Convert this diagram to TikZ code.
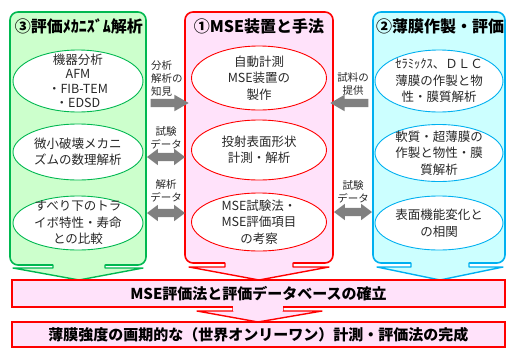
\documentclass[tikz,border=0pt]{standalone}
\usepackage{fontspec}
\setmainfont{Noto Sans CJK JP}
\usetikzlibrary{shapes.geometric,shapes.arrows}
\definecolor{gline}{RGB}{0,184,80}
\definecolor{gfill}{RGB}{204,255,204}
\definecolor{rline}{RGB}{255,0,0}
\definecolor{rfill}{RGB}{255,226,250}
\definecolor{bline}{RGB}{0,176,240}
\definecolor{bfill}{RGB}{204,255,255}
\definecolor{agray}{RGB}{128,128,128}
\definecolor{txt}{RGB}{40,40,40}
\tikzset{
  panel/.style={line width=1.6pt, rounded corners=8pt},
  ttl/.style={font=\fontsize{16}{18}\selectfont\bfseries, inner sep=0pt},
  etxt/.style={align=center, font=\fontsize{12.5}{16.5}\selectfont, text=txt, inner sep=0pt},
  etxtb/.style={align=center, font=\fontsize{12.5}{14.5}\selectfont, text=txt, inner sep=0pt},
  lbl/.style={font=\fontsize{10.5}{13}\selectfont, text=txt, inner sep=0pt},
  ell/.style={ellipse, fill=white, line width=0.9pt, inner sep=0pt},
  rarr/.style={single arrow, fill=agray, draw=none, minimum height=38pt, minimum width=16pt,
    single arrow head extend=4pt, single arrow tip angle=60, inner sep=4pt},
  darr/.style={double arrow, fill=agray, draw=none, minimum height=38pt, minimum width=16pt,
    double arrow head extend=4pt, double arrow tip angle=74, inner sep=4pt},
  bar/.style={draw=rline, fill=rfill, line width=1.4pt, inner sep=0pt,
    font=\fontsize{15}{17}\selectfont\bfseries, text=black},
  darrow/.style={line width=1.4pt, line join=round}
}
\begin{document}
\begin{tikzpicture}[x=1pt,y=-1pt]
\useasboundingbox (0,0) rectangle (507,349);
\fill[white] (0,0) rectangle (507,349);

% ---------- panels ----------
\draw[panel, draw=gline, fill=gfill] (10,12) rectangle (146,265);
\fill[gfill] (53,262) -- (53,268) -- (13,268) -- (79,280) -- (143,268) -- (105,268) -- (105,262) -- cycle;
\draw[darrow, gline] (53,264.5) -- (53,268) -- (13,268) -- (79,280) -- (143,268) -- (105,268) -- (105,264.5);

\draw[panel, draw=rline, fill=rfill] (185,12) rectangle (333,263);
\fill[rfill] (225,260) -- (225,267) -- (189,267) -- (259,280) -- (329,267) -- (293,267) -- (293,260) -- cycle;
\draw[darrow, rline] (225,262.5) -- (225,267) -- (189,267) -- (259,280) -- (329,267) -- (293,267) -- (293,262.5);

\draw[panel, draw=bline, fill=bfill] (373,12) rectangle (505,263);
\fill[bfill] (411,260) -- (411,267) -- (377,267) -- (440,280) -- (503,267) -- (469,267) -- (469,260) -- cycle;
\draw[darrow, bline] (411,262.5) -- (411,267) -- (377,267) -- (440,280) -- (503,267) -- (469,267) -- (469,262.5);

% ---------- titles ----------
\node[ttl] (tg) at (79,26) {③評価ﾒｶﾆｽﾞﾑ解析};
\node[ttl] (tr) at (259,26) {①MSE装置と手法};
\node[ttl] (tb) at (440,26) {②薄膜作製・評価};

% ---------- ellipses: green ----------
\node[ell, draw=gline, minimum width=130pt, minimum height=62pt] (g1) at (78,81) {};
\node[etxtb] (g1t) at (g1.center) {機器分析\\AFM\\・FIB-TEM\\・EDSD};
\node[ell, draw=gline, minimum width=130pt, minimum height=56pt] (g2) at (78,152) {};
\node[etxt] (g2t) at (g2.center) {微小破壊メカニ\\ズムの数理解析};
\node[ell, draw=gline, minimum width=130pt, minimum height=54pt] (g3) at (78,223) {};
\node[etxt] (g3t) at (g3.center) {すべり下のトラ\\イボ特性・寿命\\との比較};

% ---------- ellipses: red ----------
\node[ell, draw=rline, minimum width=135pt, minimum height=64pt] (r1) at (259,78) {};
\node[etxt] (r1t) at (r1.center) {自動計測\\MSE装置の\\製作};
\node[ell, draw=rline, minimum width=135pt, minimum height=60pt] (r2) at (259,150) {};
\node[etxt] (r2t) at (r2.center) {投射表面形状\\計測・解析};
\node[ell, draw=rline, minimum width=135pt, minimum height=58pt] (r3) at (259,222) {};
\node[etxt] (r3t) at (r3.center) {MSE試験法・\\MSE評価項目\\の考察};

% ---------- ellipses: blue ----------
\node[ell, draw=bline, minimum width=128pt, minimum height=62pt] (b1e) at (439,81) {};
\node[etxt] (b1t) at (b1e.center) {ｾﾗﾐｯｸｽ、ＤＬＣ\\薄膜の作製と物\\性・膜質解析};
\node[ell, draw=bline, minimum width=128pt, minimum height=57pt] (b2e) at (439,153) {};
\node[etxt] (b2t) at (b2e.center) {軟質・超薄膜の\\作製と物性・膜\\質解析};
\node[ell, draw=bline, minimum width=128pt, minimum height=54pt] (b3e) at (439,223) {};
\node[etxt] (b3t) at (b3e.center) {表面機能変化と\\の相関};

% ---------- grey arrows and labels ----------
\node[rarr] (a1) at (166,103) {};
\node[lbl, align=left, anchor=west] (l1) at (151,79) {分析\\解析の\\知見};
\node[darr] (a2) at (166,157) {};
\node[lbl, align=center] (l2) at (166,138) {試験\\データ};
\node[darr] (a3) at (166,213) {};
\node[lbl, align=center] (l3) at (166,191) {解析\\データ};

\node[rarr, shape border rotate=180] (a4) at (353,103) {};
\node[lbl, align=center] (l4) at (353,84) {試料の\\提供};
\node[darr] (a5) at (353,212) {};
\node[lbl, align=center] (l5) at (353,192) {試験\\データ};

% ---------- bottom bars ----------
\fill[rfill] (233,304) -- (233,311) -- (197,311) -- (258,322) -- (322,311) -- (283,311) -- (283,304) -- cycle;
\draw[darrow, rline] (233,307) -- (233,311) -- (197,311) -- (258,322) -- (322,311) -- (283,311) -- (283,307);
\node[bar, minimum width=493pt, minimum height=27pt] (bar1) at (258.5,293.5) {MSE評価法と評価データベースの確立};
\fill[rfill] (233,305) -- (233,311) -- (283,311) -- (283,305) -- cycle;
\node[bar, minimum width=493pt, minimum height=25pt] (bar2) at (258.5,334.5) {薄膜強度の画期的な（世界オンリーワン）計測・評価法の完成};
\end{tikzpicture}
\end{document}
